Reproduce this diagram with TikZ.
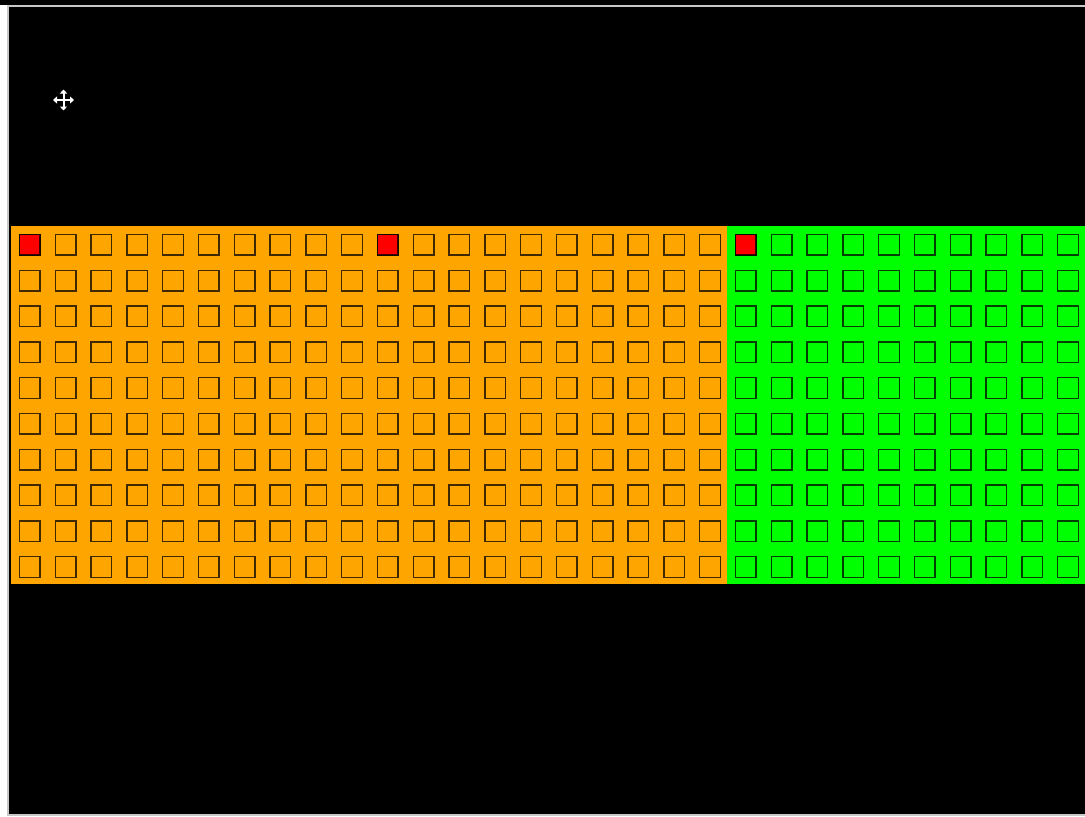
\documentclass[tikz,border=0pt]{standalone}
\usetikzlibrary{arrows.meta}
\definecolor{bandorange}{HTML}{FFA500}
\definecolor{bandgreen}{HTML}{00FF00}
\definecolor{framegray}{HTML}{C8C8C8}
\tikzset{
  cell/.style={draw=black, draw opacity=0.75, line width=1.4pt, rectangle,
    minimum size=20.5pt, inner sep=0pt},
  hotcell/.style={cell, fill=red},
  grip/.style={white, line width=2pt, {Triangle[length=4pt,width=7pt]}-{Triangle[length=4pt,width=7pt]}}
}
\begin{document}
\begin{tikzpicture}[x=1pt, y=-1pt]
    \useasboundingbox (0,0) rectangle (1085,817);
    % window frame
    \fill[white] (0,0) rectangle (1085,817);
    \fill[black] (0,0) rectangle (1085,5);
    \filldraw[fill=black, draw=framegray, line width=1.5pt] (8,6) rectangle (1095,815);

    % the two bands
    \fill[bandorange] (11,226) rectangle (727,584);
    \fill[bandgreen] (727,226) rectangle (1085,584);

    % cells
    \foreach \r in {0,...,9}
      \foreach \c in {0,...,29}
        \node[cell] (sq-\r-\c) at ({29.75+35.8*\c},{244.75+35.8*\r}) {};
    \foreach \c in {0,10,20}
      \node[hotcell] (hot-\c) at ({29.75+35.8*\c},244.75) {};

    % move cursor
    \coordinate (cur-w) at (53,100);
    \coordinate (cur-e) at (74,100);
    \coordinate (cur-n) at (63.5,89.5);
    \coordinate (cur-s) at (63.5,110.5);
    \draw[grip] (cur-w) -- (cur-e);
    \draw[grip] (cur-n) -- (cur-s);
\end{tikzpicture}
\end{document}
